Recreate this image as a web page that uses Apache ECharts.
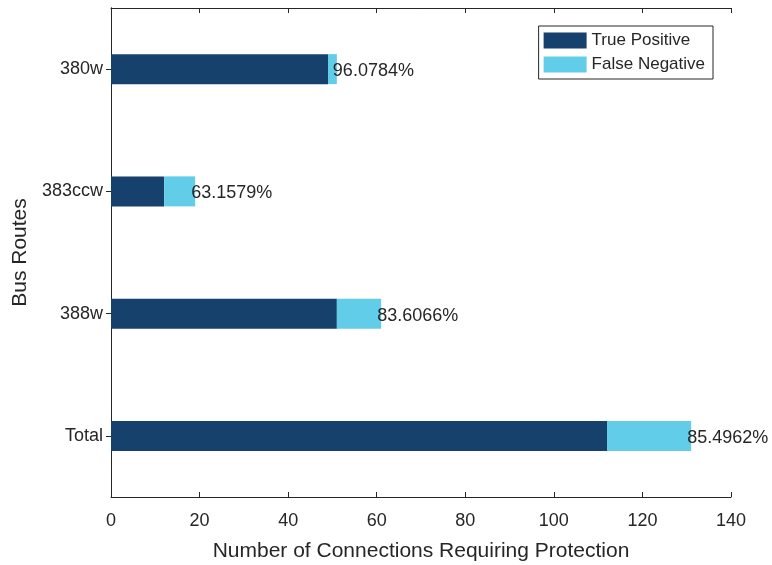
<!DOCTYPE html>
<html><head><meta charset="utf-8">
<script src="https://cdn.jsdelivr.net/npm/echarts@6/dist/echarts.min.js"></script>
<style>html,body{margin:0;padding:0;background:#fff}#c{width:772px;height:565px}</style>
</head><body><div id="c"></div>
<script>
const categories = ['Total', '388w', '383ccw', '380w'];
const truePositive = [112, 51, 12, 49];
const falseNegative = [19, 10, 7, 2];
const xTicks = { min: 0, max: 140, interval: 20 };

const pctLabels = truePositive.map((t, i) => (t / (t + falseNegative[i]) * 100).toFixed(4) + '%');
const FONT = 'Liberation Sans, Arial, Helvetica, sans-serif';
const TXT = '#262626';
const chart = echarts.init(document.getElementById('c'));
const tickStyle = { show: true, inside: true, length: 5, lineStyle: { color: TXT, width: 1 } };
chart.setOption({
  animation: false,
  textStyle: { fontFamily: FONT },
  grid: { left: 111, right: 41, top: 8, bottom: 68, containLabel: false, outerBoundsMode: 'none' },
  legend: {
    orient: 'vertical', right: 59, top: 26,
    icon: 'rect',
    itemWidth: 43, itemHeight: 16, itemGap: 7,
    padding: [6, 8, 6, 5],
    borderColor: TXT, borderWidth: 1,
    backgroundColor: '#fff',
    textStyle: { fontSize: 17, color: TXT, fontFamily: FONT },
    data: ['True Positive', 'False Negative']
  },
  xAxis: [{
    type: 'value', min: xTicks.min, max: xTicks.max, interval: xTicks.interval,
    name: 'Number of Connections Requiring Protection', nameLocation: 'middle', nameGap: 44,
    nameTextStyle: { fontSize: 21, color: TXT, fontFamily: FONT },
    axisLine: { show: true, lineStyle: { color: TXT } },
    axisTick: tickStyle,
    axisLabel: { fontSize: 18, color: TXT, margin: 15, fontFamily: FONT },
    splitLine: { show: false }
  }, {
    type: 'value', position: 'top', min: xTicks.min, max: xTicks.max, interval: xTicks.interval,
    axisLine: { show: true, lineStyle: { color: TXT } },
    axisTick: tickStyle, axisLabel: { show: false }, splitLine: { show: false }
  }],
  yAxis: [{
    type: 'category', data: categories,
    name: 'Bus Routes', nameLocation: 'middle', nameGap: 76,
    nameTextStyle: { fontSize: 21, color: TXT, fontFamily: FONT },
    axisLine: { show: true, lineStyle: { color: TXT } },
    axisTick: Object.assign({ alignWithLabel: true }, tickStyle),
    axisLabel: { fontSize: 18, color: TXT, margin: 8, fontFamily: FONT }
  }, {
    type: 'category', data: categories, position: 'right',
    axisLine: { show: true, lineStyle: { color: TXT } },
    axisTick: Object.assign({ alignWithLabel: true }, tickStyle),
    axisLabel: { show: false }
  }],
  series: [{
    name: 'True Positive', type: 'bar', stack: 'a', barWidth: 30,
    itemStyle: { color: '#17416D' },
    data: truePositive
  }, {
    name: 'False Negative', type: 'bar', stack: 'a', barWidth: 30,
    itemStyle: { color: '#62CDE8' },
    label: {
      show: true, position: 'right', distance: -4, offset: [0, 2],
      fontSize: 18, color: TXT, fontFamily: FONT,
      formatter: p => pctLabels[p.dataIndex]
    },
    data: falseNegative
  }]
});
</script></body></html>
